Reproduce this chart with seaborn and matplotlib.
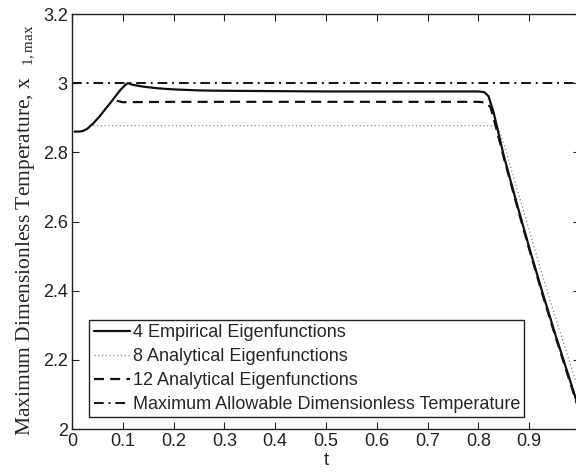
import matplotlib
matplotlib.use("Agg")
import matplotlib.pyplot as plt
import seaborn as sns

# Time samples and peak temperature for each controller
t_emp = [0.005, 0.015, 0.022, 0.03, 0.042, 0.055, 0.065, 0.075, 0.085, 0.095, 0.105, 0.11,
         0.12, 0.14, 0.17, 0.2, 0.25, 0.3, 0.4, 0.5, 0.6, 0.7, 0.8, 0.812, 0.82,
         0.83, 0.85, 0.875, 0.9, 0.925, 0.95, 0.975, 1.0]
x_emp = [2.860, 2.860, 2.862, 2.868, 2.884, 2.905, 2.924, 2.942, 2.961, 2.980, 2.995, 3.000,
         2.995, 2.990, 2.985, 2.982, 2.979, 2.978, 2.977, 2.976, 2.976, 2.976, 2.976, 2.974, 2.962,
         2.915, 2.79, 2.655, 2.525, 2.40, 2.28, 2.165, 2.05]

t_an8 = [0.042, 0.2, 0.4, 0.6, 0.8, 0.832, 0.84, 0.85, 0.875, 0.9, 0.925, 0.95, 0.975, 1.0]
x_an8 = [2.877, 2.877, 2.877, 2.877, 2.877, 2.877, 2.868, 2.825, 2.700, 2.575, 2.45, 2.33, 2.215, 2.10]

t_an12 = [0.088, 0.1, 0.2, 0.4, 0.6, 0.8, 0.815, 0.824, 0.835, 0.85, 0.875, 0.9, 0.925, 0.95, 0.975, 1.0]
x_an12 = [2.949, 2.945, 2.946, 2.946, 2.946, 2.946, 2.944, 2.930, 2.870, 2.785, 2.650, 2.520, 2.395, 2.275, 2.16, 2.045]

t_lim = [0.0, 1.0]
x_lim = [3.0, 3.0]

series_names = ["4 Empirical Eigenfunctions",
                "8 Analytical Eigenfunctions",
                "12 Analytical Eigenfunctions",
                "Maximum Allowable Dimensionless Temperature"]

x_ticks = [0, 0.1, 0.2, 0.3, 0.4, 0.5, 0.6, 0.7, 0.8, 0.9, 1]
x_tick_labels = ["0", "0.1", "0.2", "0.3", "0.4", "0.5", "0.6", "0.7", "0.8", "0.9", "1"]
y_ticks = [2.0, 2.2, 2.4, 2.6, 2.8, 3.0, 3.2]
y_tick_labels = ["2", "2.2", "2.4", "2.6", "2.8", "3", "3.2"]

sns.set_style("ticks")
plt.rcParams["font.family"] = ["Liberation Sans", "DejaVu Sans"]
plt.rcParams["mathtext.fontset"] = "custom"
plt.rcParams["mathtext.rm"] = "Liberation Serif"
plt.rcParams["mathtext.it"] = "Liberation Serif"
plt.rcParams["xtick.direction"] = "in"
plt.rcParams["ytick.direction"] = "in"
plt.rcParams["xtick.top"] = True
plt.rcParams["ytick.right"] = True
plt.rcParams["axes.edgecolor"] = "#222222"

fig = plt.figure(figsize=(5.76, 4.73), dpi=100)
ax = fig.add_axes([72 / 576, 1 - 429 / 473, 508 / 576, 415 / 473])

sns.lineplot(x=t_lim, y=x_lim, ax=ax, color="#111111", lw=1.4,
             estimator=None, sort=False, label=series_names[3], zorder=2)
sns.lineplot(x=t_an8, y=x_an8, ax=ax, color="#888888", lw=0.9,
             estimator=None, sort=False, label=series_names[1], zorder=3)
sns.lineplot(x=t_an12, y=x_an12, ax=ax, color="#111111", lw=1.6,
             estimator=None, sort=False, label=series_names[2], zorder=4)
sns.lineplot(x=t_emp, y=x_emp, ax=ax, color="#111111", lw=1.6,
             estimator=None, sort=False, label=series_names[0], zorder=5)

lines = ax.get_lines()
lines[0].set_dashes([5, 2.5, 1, 2.5])
lines[1].set_dashes([1, 2])
lines[2].set_dashes([4.5, 2.8])
lines[3].set_linestyle("-")

ax.set_xlim(0, 1)
ax.set_ylim(2.0, 3.2)
ax.set_xticks(x_ticks)
ax.set_xticklabels(x_tick_labels)
ax.set_yticks(y_ticks)
ax.set_yticklabels(y_tick_labels)
ax.tick_params(labelsize=13, length=5, width=0.8, colors="#222222", pad=3)
for s in ax.spines.values():
    s.set_linewidth(1.0)

ax.set_xlabel("t", fontsize=13, labelpad=1)
ax.set_ylabel(r"Maximum Dimensionless Temperature, x$_{\quad 1,\mathrm{max}}$",
              fontsize=15.5, family="Liberation Serif")
ax.yaxis.set_label_coords(-0.068, 0.478)

handles, labels = ax.get_legend_handles_labels()
order = [labels.index(n) for n in series_names]
leg = ax.legend([handles[i] for i in order], [labels[i] for i in order],
                loc="lower left", bbox_to_anchor=(0.034, 0.028), fontsize=13,
                frameon=True, fancybox=False, edgecolor="#222222", framealpha=1,
                handlelength=2.0, handletextpad=0.15, borderpad=0.25,
                labelspacing=0.38, borderaxespad=0)
leg.get_frame().set_linewidth(1.0)

fig.savefig("out.png", dpi=100)
